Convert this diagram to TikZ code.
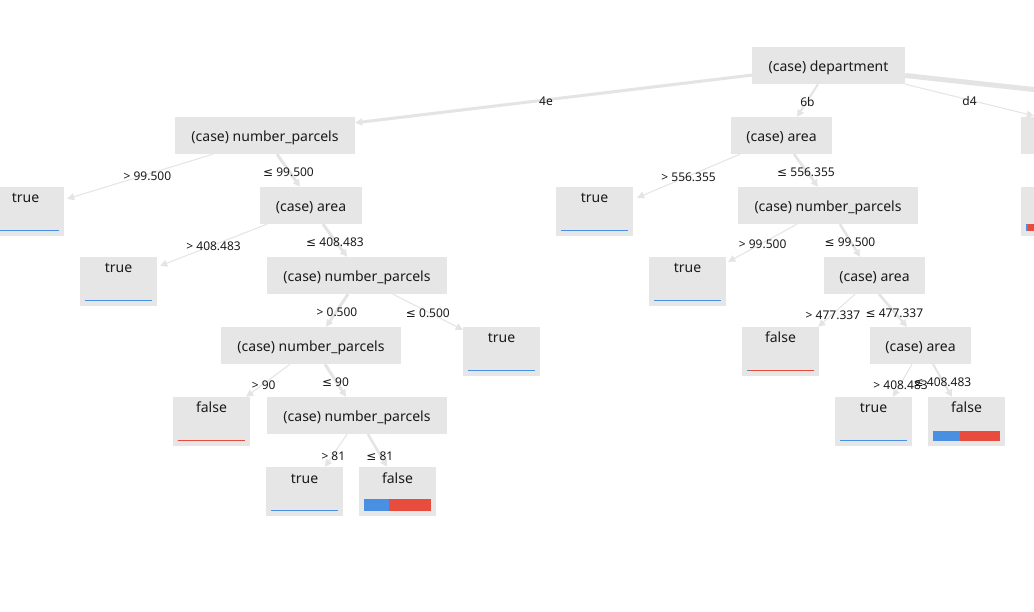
\documentclass[tikz,border=0pt]{standalone}
\usepackage{fontspec}
\setmainfont{Noto Sans}
\newfontfamily\symfont{DejaVu Sans}
\usetikzlibrary{arrows.meta}
\definecolor{boxgray}{HTML}{E6E6E6}
\definecolor{edgegray}{HTML}{E4E4E4}
\definecolor{tblue}{HTML}{4A90E2}
\definecolor{tred}{HTML}{E74C3C}
\definecolor{ink}{HTML}{1A1A1A}
% less-or-equal sign taken from a font that has it
\newcommand{\lesseq}{{\symfont ≤}}
% class bar along the bottom of a leaf: node, blue width, bar height
\newcommand{\leafbar}[3]{%
  \fill[tred] ([shift={(5,-5)}]#1.south west) rectangle ([shift={(72,-5-#3)}]#1.south west);
  \fill[tblue] ([shift={(5,-5)}]#1.south west) rectangle ([shift={(5+#2,-5-#3)}]#1.south west);}
\begin{document}
\begin{tikzpicture}[x=1pt,y=-1pt,
  split/.style={rectangle, fill=boxgray, inner sep=0pt, minimum height=37pt,
    text height=13.5pt, text depth=1.5pt,
    font=\fontsize{14}{16}\selectfont, text=ink},
  leaf/.style={rectangle, fill=boxgray, inner sep=0pt, minimum width=77pt,
    text height=16pt, text depth=33pt, font=\fontsize{14}{16}\selectfont, text=ink},
  edgeline/.style={draw=edgegray, line width=1pt},
  edge/.style={edgeline, -{Triangle[length=7pt,width=7pt]}},
  elab/.style={font=\fontsize{12}{14}\selectfont, text=ink, inner sep=1pt, yshift=-1.5pt}]
\fill[white] (0,0) rectangle (1034,612);
\clip (0,0) rectangle (1034,612);

% decision nodes
\node[split, minimum width=153pt] (dep) at (828.5,65.5) {(case) department};
\node[split, minimum width=180pt] (np1) at (265,135.5) {(case) number\_parcels};
\node[split, minimum width=101pt] (ar1) at (781.5,135.5) {(case) area};
\node[split, minimum width=101pt] (d4n) at (1071.5,135.5) {};
\node[split, minimum width=102pt] (ar2) at (311,205.5) {(case) area};
\node[split, minimum width=180pt] (np2) at (357,275.5) {(case) number\_parcels};
\node[split, minimum width=180pt] (np3) at (311,345.5) {(case) number\_parcels};
\node[split, minimum width=180pt] (np4) at (357,415.5) {(case) number\_parcels};
\node[split, minimum width=180pt] (np5) at (828,205.5) {(case) number\_parcels};
\node[split, minimum width=101pt] (ar3) at (874.5,275.5) {(case) area};
\node[split, minimum width=101pt] (ar4) at (920.5,345.5) {(case) area};

% leaves
\node[leaf] (t1) at (25.5,211.5) {true};
\node[leaf] (t2) at (118.5,281.5) {true};
\node[leaf] (t3) at (501.5,351.5) {true};
\node[leaf] (f1) at (211.5,421.5) {false};
\node[leaf] (t4) at (304.5,491.5) {true};
\node[leaf] (f2) at (397.5,491.5) {false};
\node[leaf] (t5) at (594.5,211.5) {true};
\node[leaf] (t6) at (687.5,281.5) {true};
\node[leaf] (f3) at (780.5,351.5) {false};
\node[leaf] (t7) at (873.5,421.5) {true};
\node[leaf] (f4) at (966.5,421.5) {false};
\node[leaf] (d4l) at (1059.5,211.5) {};

\leafbar{t1}{67}{1.5}
\leafbar{t2}{67}{1.5}
\leafbar{t3}{67}{1.5}
\leafbar{f1}{0}{1.5}
\leafbar{t4}{67}{1.5}
\leafbar{f2}{25}{12}
\leafbar{t5}{67}{1.5}
\leafbar{t6}{67}{1.5}
\leafbar{f3}{2}{1.5}
\leafbar{t7}{67}{1.5}
\leafbar{f4}{27}{10}
\leafbar{d4l}{2}{7}

% branches from the root
\coordinate (offr) at (1300,118.5);
\draw[edgeline, line width=5pt] ([shift={(0,10)}]dep.east) -- (offr);
\draw[edge, line width=3pt] ([shift={(1,9.5)}]dep.west) -- node[elab,pos=0.52]{4e} ([shift={(0,6)}]np1.north east);
\draw[edge, line width=2pt] ([xshift=-10.5pt]dep.south) -- node[elab]{6b} ([xshift=15.5pt]ar1.north);
\draw[edge] (dep.south east) -- node[elab]{d4} ([shift={(13,-1)}]d4n.north west);

% left subtree
\draw[edge] ([xshift=-52pt]np1.south) -- node[elab,pos=0.45]{> 99.500} ([shift={(3,12)}]t1.north east);
\draw[edge, line width=3pt] ([xshift=12pt]np1.south) -- node[elab]{\lesseq{} 99.500} ([xshift=-11pt]ar2.north);
\draw[edge] ([xshift=-44pt]ar2.south) -- node[elab]{> 408.483} ([shift={(3,9)}]t2.north east);
\draw[edge, line width=3pt] ([xshift=12pt]ar2.south) -- node[elab]{\lesseq{} 408.483} ([xshift=-10pt]np2.north);
\draw[edge, line width=3pt] ([xshift=-9pt]np2.south) -- node[elab]{> 0.500} ([xshift=15pt]np3.north);
\draw[edge] ([xshift=36pt]np2.south) -- node[elab]{\lesseq{} 0.500} ([shift={(0,3)}]t3.north west);
\draw[edge] ([xshift=-21pt]np3.south) -- node[elab,pos=0.6]{> 90} ([xshift=-4pt]f1.north east);
\draw[edge, line width=3pt] ([xshift=14pt]np3.south) -- node[elab]{\lesseq{} 90} ([xshift=-11pt]np4.north);
\draw[edge] ([xshift=-10pt]np4.south) -- node[elab,pos=0.62]{> 81} ([xshift=20.5pt]t4.north);
\draw[edge, line width=2.5pt] ([xshift=11pt]np4.south) -- node[elab,pos=0.62]{\lesseq{} 81} ([xshift=-10.5pt]f2.north);

% right subtree
\draw[edge] ([xshift=-41.5pt]ar1.south) -- node[elab]{> 556.355} ([shift={(4,11)}]t5.north east);
\draw[edge, line width=2.5pt] ([xshift=12.5pt]ar1.south) -- node[elab]{\lesseq{} 556.355} ([xshift=-10pt]np5.north);
\draw[edge] ([xshift=-31pt]np5.south) -- node[elab]{> 99.500} ([shift={(2,5)}]t6.north east);
\draw[edge, line width=2.5pt] ([xshift=12pt]np5.south) -- node[elab]{\lesseq{} 99.500} ([xshift=-14.5pt]ar3.north);
\draw[edge] ([xshift=-19.5pt]ar3.south) -- node[elab,pos=0.6]{> 477.337} ([xshift=-1pt]f3.north east);
\draw[edge, line width=2.5pt] ([xshift=4.5pt]ar3.south) -- node[elab,pos=0.55]{\lesseq{} 477.337} ([xshift=-13.5pt]ar4.north);
\draw[edge] ([xshift=-8.5pt]ar4.south) -- node[elab,pos=0.6]{> 408.483} ([xshift=19.5pt]t7.north);
\draw[edge, line width=2pt] ([xshift=12.5pt]ar4.south) -- node[elab]{\lesseq{} 408.483} ([xshift=-14.5pt]f4.north);
\end{tikzpicture}
\end{document}
